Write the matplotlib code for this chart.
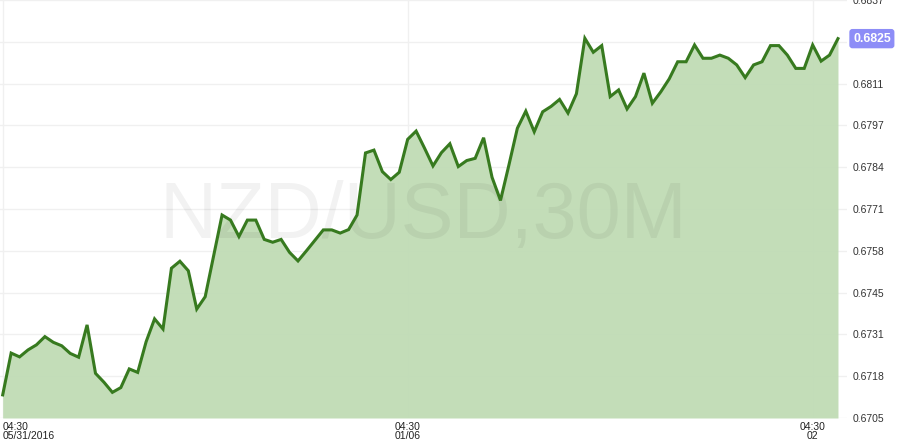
import numpy as np
import matplotlib
matplotlib.use("Agg")
from matplotlib import pyplot as plt

# NZD/USD 30 minute closes
closes = [
    0.67123, 0.67255, 0.67243, 0.67265, 0.67281, 0.67307, 0.67289, 0.67278, 0.67254, 0.67242,
    0.67344, 0.67191, 0.67163, 0.67131, 0.67146, 0.67205, 0.67194, 0.67291, 0.67363, 0.67331,
    0.67523, 0.67545, 0.67515, 0.67394, 0.67433, 0.67562, 0.67691, 0.67675, 0.67623, 0.67675,
    0.67675, 0.67614, 0.67605, 0.67614, 0.67573, 0.67546, 0.67578, 0.67611, 0.67644, 0.67644,
    0.67634, 0.67645, 0.67691, 0.67887, 0.67896, 0.67828, 0.67803, 0.67826, 0.67930, 0.67956,
    0.67902, 0.67846, 0.67888, 0.67916, 0.67844, 0.67863, 0.67870, 0.67935, 0.67810, 0.67737,
    0.67849, 0.67965, 0.68019, 0.67954, 0.68017, 0.68034, 0.68056, 0.68013, 0.68074, 0.68249,
    0.68205, 0.68226, 0.68065, 0.68086, 0.68026, 0.68065, 0.68139, 0.68044, 0.68080, 0.68121,
    0.68175, 0.68175, 0.68228, 0.68186, 0.68186, 0.68196, 0.68186, 0.68165, 0.68125, 0.68165,
    0.68175, 0.68226, 0.68226, 0.68196, 0.68154, 0.68154, 0.68228, 0.68177, 0.68196, 0.68248,
]
xtick_idx = [0, 48, 96]
xtick_labels = ["04:30\n05/31/2016", "04:30\n01/06", "04:30\n02"]
y_min, y_max = 0.6705, 0.6837
y_ticks = [0.6705, 0.6718, 0.6731, 0.6745, 0.6758, 0.6771, 0.6784, 0.6797, 0.6811, 0.6824, 0.6837]
y_tick_pos = [y_min + k * (y_max - y_min) / 10 for k in range(11)]
last_label = "0.6825"

plt.rcParams['font.family'] = ['Liberation Sans', 'DejaVu Sans']

fig = plt.figure(figsize=(9, 4.48), dpi=100)
ax = fig.add_axes([0, 30 / 448, 847 / 900, 418 / 448])

x = np.arange(len(closes))
ax.fill_between(x, closes, y_min, color='#c1dcb6', alpha=0.97, lw=0, zorder=1)
ax.plot(x, closes, color='#377a1f', lw=2.2, solid_joinstyle='miter', zorder=4)

# watermark
ax.text(0.5, 0.43, "NZD/USD,30M", transform=ax.transAxes, fontsize=57,
        color='black', alpha=0.05, ha='center', va='baseline', zorder=2)

ax.set_xlim(-0.32, 100.07)
ax.set_ylim(y_min, y_max)

ax.set_yticks(y_tick_pos)
ylabs = ["%.4f" % v for v in y_ticks]
ylabs[9] = ""  # hidden under the last price badge
ax.set_yticklabels(ylabs)
ax.yaxis.tick_right()
ax.tick_params(axis='y', length=0, pad=4, labelsize=7.5, labelcolor='#333333')

ax.set_xticks(xtick_idx)
ax.set_xticklabels(xtick_labels, linespacing=0.85)
ax.tick_params(axis='x', length=0, pad=3, labelsize=7.5, labelcolor='#222222')
ax.get_xticklabels()[0].set_ha('left')
ax.get_xticklabels()[0].set_x(-0.35)

ax.grid(True, color='#f0f0f0', lw=1, zorder=0)
ax.set_axisbelow(True)
for s in ax.spines.values():
    s.set_visible(False)

# last price badge
ax.annotate(last_label, xy=(1.0, closes[-1]), xycoords=('axes fraction', 'data'),
            xytext=(6, 0), textcoords='offset pixels', ha='left', va='center',
            fontsize=8.8, fontweight='bold', color='white', annotation_clip=False,
            bbox=dict(boxstyle='round,pad=0.3,rounding_size=0.25', fc='#8d8df7', ec='none'),
            zorder=6)

fig.savefig("out.png", dpi=100)
